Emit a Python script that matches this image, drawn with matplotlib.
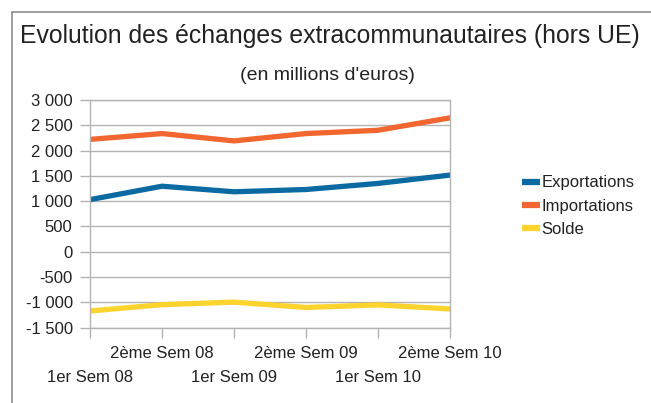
import matplotlib
matplotlib.use("Agg")
import matplotlib.pyplot as plt
from matplotlib.patches import Rectangle
from matplotlib.lines import Line2D

categories = ["1er Sem 08", "2ème Sem 08", "1er Sem 09", "2ème Sem 09", "1er Sem 10", "2ème Sem 10"]
exportations = [1030, 1295, 1185, 1230, 1350, 1515]
importations = [2220, 2335, 2190, 2335, 2400, 2645]
solde = [-1170, -1045, -995, -1100, -1050, -1130]
series_names = ["Exportations", "Importations", "Solde"]
colors = ["#0b6aa2", "#f26630", "#fdd32e"]
yticks = list(range(-1500, 3001, 500))

plt.rcParams['font.family'] = ['Liberation Sans', 'DejaVu Sans']

fig = plt.figure(figsize=(6.51, 4.03), dpi=100)
W, H = 651, 403
ax = fig.add_axes([90 / W, (H - 327.7) / H, 360 / W, (327.7 - 99.9) / H])

x = list(range(len(categories)))
for vals, c, name in zip([exportations, importations, solde], colors, series_names):
    ax.plot(x, vals, color=c, lw=3.8, solid_joinstyle='miter', label=name)

ax.set_xlim(0, len(categories) - 1)
ax.set_ylim(-1500, 3000)
ax.set_yticks(yticks)
ax.set_yticklabels([f"{v:,}".replace(",", " ") for v in yticks], fontsize=12, color='#222222')
ax.set_xticks(x)
ax.set_xticklabels([])
for i, cat in enumerate(categories):
    ypix = 354 if i % 2 == 1 else 377
    ax.text(i, -(ypix - 327.7) / (327.7 - 99.9), cat, transform=ax.get_xaxis_transform(),
            ha='center', va='center', fontsize=12, color='#222222')

ax.grid(axis='y', color='#b3b3b3', lw=1)
ax.set_axisbelow(True)
for s in ax.spines.values():
    s.set_color('#b3b3b3')
    s.set_linewidth(1)
ax.tick_params(axis='both', colors='#b3b3b3', length=7, width=1, direction='out', labelcolor='#222222', pad=5.5)

handles = [Line2D([0], [0], color=c, lw=4.5, solid_capstyle='butt') for c in colors]
fig.legend(handles, series_names, loc='center left', bbox_to_anchor=(522 / W, (H - 206) / H),
           frameon=False, fontsize=12, handlelength=1.05, handletextpad=0.12, labelspacing=0.48,
           borderpad=0, borderaxespad=0, labelcolor='#222222')

fig.text(330 / W, (H - 36) / H, "Evolution des échanges extracommunautaires (hors UE)",
         ha='center', va='center', fontsize=17.8, color='#222222')
fig.text(327.5 / W, (H - 75.5) / H, "(en millions d'euros)", ha='center', va='center',
         fontsize=14, color='#222222')

fig.patches.append(Rectangle((12 / W, -0.05), 1.2, (H - 11.7) / H + 0.05, transform=fig.transFigure,
                             fill=False, edgecolor='#8c8c8c', lw=1.2))

fig.savefig("out.png", dpi=100)
